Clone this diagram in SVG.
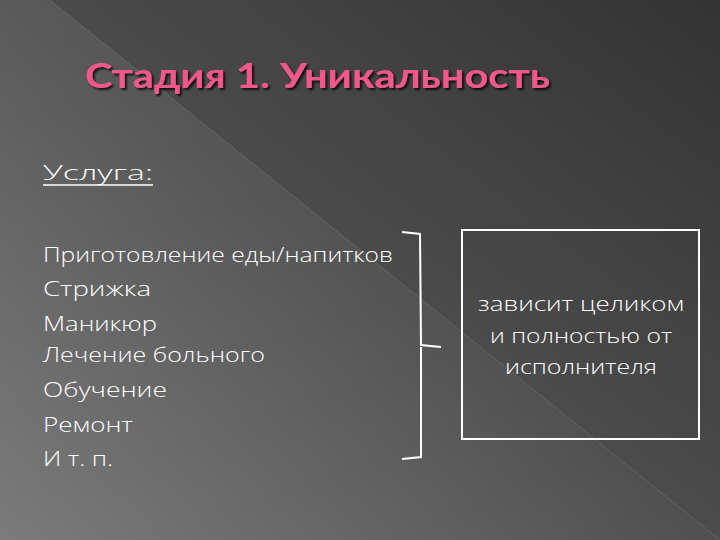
<svg xmlns="http://www.w3.org/2000/svg" width="720" height="540" viewBox="0 0 720 540">
<defs>
<linearGradient id="bg" x1="1" y1="0" x2="0" y2="1">
<stop offset="0" stop-color="#333"/><stop offset="0.5" stop-color="#4c4c4c"/><stop offset="1" stop-color="#747474"/>
</linearGradient>
<linearGradient id="band" x1="0" y1="0" x2="1" y2="1">
<stop offset="0" stop-color="#ffffff" stop-opacity="0.08"/><stop offset="1" stop-color="#ffffff" stop-opacity="0.02"/>
</linearGradient>
<filter id="sh"><feDropShadow dx="2" dy="2" stdDeviation="0.8" flood-color="#000" flood-opacity="0.8"/></filter>
</defs>
<style>
.t{font-family:"Open Sans","Liberation Sans",sans-serif;fill:#fff;font-size:21px;font-weight:300}
.ln{fill:none;stroke:#fff;stroke-width:2}
</style>
<rect width="720" height="540" fill="url(#bg)"/>
<polygon points="0,0 50,0 720,540 0,540" fill="url(#band)"/>
<line x1="50" y1="0" x2="720" y2="540" stroke="#888" stroke-opacity="0.35"/>
<g id="title"><text x="85" y="88" font-family="Lato,'Open Sans',sans-serif" font-weight="bold" font-size="34" fill="#f0588c" filter="url(#sh)" textLength="465" lengthAdjust="spacingAndGlyphs">Стадия 1. Уникальность</text></g>
<g id="list">
<text class="t" x="43" y="180" textLength="110" lengthAdjust="spacingAndGlyphs">Услуга:</text>
<line x1="43" y1="185" x2="153" y2="185" stroke="#fff" stroke-width="1.5"/>
<text class="t" x="43" y="262" textLength="350" lengthAdjust="spacingAndGlyphs">Приготовление еды/напитков</text>
<text class="t" x="43" y="296" textLength="108" lengthAdjust="spacingAndGlyphs">Стрижка</text>
<text class="t" x="43" y="331" textLength="114" lengthAdjust="spacingAndGlyphs">Маникюр</text>
<text class="t" x="43" y="362" textLength="222" lengthAdjust="spacingAndGlyphs">Лечение больного</text>
<text class="t" x="43" y="397" textLength="124" lengthAdjust="spacingAndGlyphs">Обучение</text>
<text class="t" x="43" y="432" textLength="90" lengthAdjust="spacingAndGlyphs">Ремонт</text>
<text class="t" x="43" y="466" textLength="70" lengthAdjust="spacingAndGlyphs">И т. п.</text>
</g>
<g id="connectors"><path class="ln" d="M402,232 L420,234 L421,345 L441,347 M421,347 L421,457 L402,459"/></g>
<g id="box">
<rect x="462" y="230" width="237" height="209" fill="none" stroke="#fff" stroke-width="2"/>
<text class="t" text-anchor="middle" x="581" y="311" textLength="206" lengthAdjust="spacingAndGlyphs">зависит целиком</text>
<text class="t" text-anchor="middle" x="581" y="343" textLength="182" lengthAdjust="spacingAndGlyphs">и полностью от</text>
<text class="t" text-anchor="middle" x="581" y="374" textLength="152" lengthAdjust="spacingAndGlyphs">исполнителя</text>
</g>
</svg>
